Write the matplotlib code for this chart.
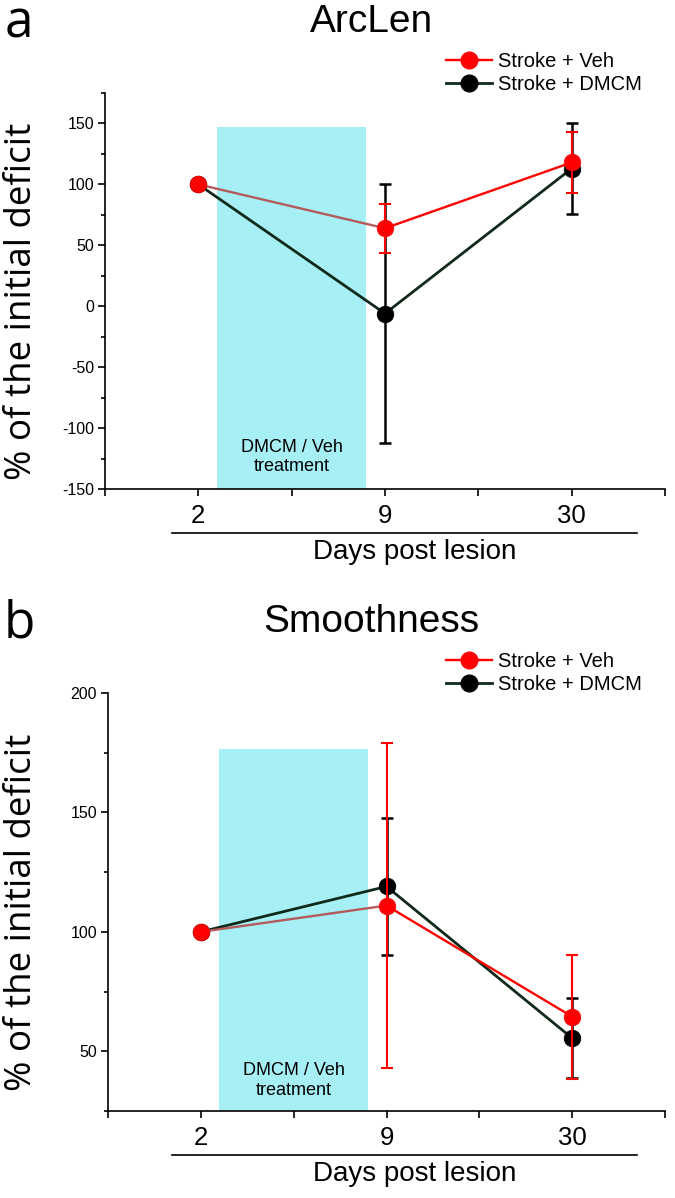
import numpy as np
import matplotlib
matplotlib.use("Agg")
import matplotlib.pyplot as plt
from matplotlib.lines import Line2D
from matplotlib.ticker import MultipleLocator

plt.rcParams["axes.unicode_minus"] = False

# ---------------- data ----------------
days = ["2", "9", "30"]
series_names = ["Stroke + Veh", "Stroke + DMCM"]

arclen_veh = [100, 64, 118]
arclen_veh_err = [0, 20, 25]
arclen_dmcm = [100, -6, 113]
arclen_dmcm_err = [0, 106, 37.5]

smooth_veh = [100, 111, 64.5]
smooth_veh_err = [0, 68, 26]
smooth_dmcm = [100, 119, 55.5]
smooth_dmcm_err = [0, 28.5, 16.7]

treatment_label = "DMCM / Veh\ntreatment"
xlabel = "Days post lesion"
ylabel = "% of the initial deficit"

# ---------------- style ----------------
W, H = 675, 1198
RED = "#ff0000"
RED_FIRST = "#b35a5a"
DARK = "#0f2a1a"
CYAN = "#a6f0f5"
SANS = ["Liberation Sans", "DejaVu Sans"]
OPEN = ["Open Sans", "DejaVu Sans"]

fig = plt.figure(figsize=(W / 100, H / 100), dpi=100)


def fx(px):
    return px / W


def fy(py):
    return 1 - py / H


def make_panel(left, right, top, bottom, ylim, ymajor, veh, veh_err, dmcm, dmcm_err,
               rect_top, text_y, title, title_y, letter, letter_base, legend_top):
    ax = fig.add_axes([fx(left), fy(bottom), fx(right) - fx(left), fy(top) - fy(bottom)])
    x = np.arange(1, len(days) + 1)
    ax.set_xlim(0.5, len(days) + 0.5)
    ax.set_ylim(*ylim)

    # treatment window
    ax.fill_between([1.1, 1.9], ylim[0], rect_top, color=CYAN, lw=0, zorder=0)
    ax.text(1.5, text_y, treatment_label, ha="center", va="center", fontsize=13,
            family=SANS, linespacing=1.2, zorder=1)

    v = np.array(veh, float)
    ve = np.array(veh_err, float)
    d = np.array(dmcm, float)
    de = np.array(dmcm_err, float)

    # DMCM
    ax.errorbar(x[1:], d[1:], yerr=de[1:], fmt="none", ecolor="#000000", elinewidth=1.8,
                capsize=4, capthick=1.8, zorder=3)
    ax.plot(x, d, "-", color=DARK, lw=2.0, zorder=3)
    ax.plot(x, d, "o", color="black", ms=12, mec="black", mew=0.5, zorder=4)
    # Veh
    ax.errorbar(x[1:], v[1:], yerr=ve[1:], fmt="none", ecolor=RED, elinewidth=1.5,
                capsize=4, capthick=1.5, zorder=5)
    ax.plot(x[:2], v[:2], "-", color=RED_FIRST, lw=1.7, zorder=5)
    ax.plot(x[1:], v[1:], "-", color=RED, lw=1.7, zorder=5)
    ax.plot(x, v, "o", color=RED, ms=12, mec=RED, mew=0.5, zorder=6)

    for s in ["top", "right"]:
        ax.spines[s].set_visible(False)
    for s in ["left", "bottom"]:
        ax.spines[s].set_linewidth(1.2)

    ticks = np.arange(0.5, len(days) + 0.75, 0.5)
    labels = []
    for t in ticks:
        if abs(t - round(t)) < 1e-9:
            labels.append(days[int(round(t)) - 1])
        else:
            labels.append("")
    ax.set_xticks(ticks)
    ax.set_xticklabels(labels, fontsize=18.5, family=SANS)
    ax.tick_params(axis="x", direction="out", length=5, width=1.2, pad=6)

    ax.yaxis.set_major_locator(MultipleLocator(50))
    ax.yaxis.set_minor_locator(MultipleLocator(25))
    ax.set_yticks(ymajor)
    for lab in ax.get_yticklabels():
        lab.set_family(SANS)
        lab.set_fontsize(11.5)
    ax.tick_params(axis="y", which="major", direction="out", length=5, width=1.2, pad=3)
    ax.tick_params(axis="y", which="minor", direction="out", length=3.2, width=1.2)

    # titles, letters, labels
    fig.text(fx(371), fy(title_y), title, ha="center", va="center", fontsize=28,
             family=SANS)
    fig.text(fx(19), fy(letter_base), letter, ha="center", va="baseline", fontsize=37,
             family=OPEN)
    fig.text(fx(22), fy((top + bottom) / 2 + 10), ylabel, rotation=90, ha="center",
             va="center", fontsize=26.5, family=OPEN)
    fig.add_artist(Line2D([fx(172), fx(637)], [fy(bottom + 44), fy(bottom + 44)],
                          color="black", lw=1.2))
    fig.text(fx(415), fy(bottom + 63), xlabel, ha="center", va="center", fontsize=20,
             family=SANS)

    handles = [
        Line2D([], [], color=RED, lw=1.7, marker="o", ms=12, mfc=RED, mec=RED),
        Line2D([], [], color=DARK, lw=2.0, marker="o", ms=12, mfc="black", mec="black"),
    ]
    fig.legend(handles, series_names, loc="upper left",
               bbox_to_anchor=(fx(446), fy(legend_top)), frameon=False, borderpad=0,
               borderaxespad=0, handlelength=2.3, handletextpad=0.3, labelspacing=0.2,
               prop={"family": SANS, "size": 14.5})
    return ax


make_panel(105, 665, 93, 489, (-150, 175), np.arange(-150, 151, 50),
           arclen_veh, arclen_veh_err, arclen_dmcm, arclen_dmcm_err,
           147.3, -123.7, "ArcLen", 22, "a", 38, 52)
make_panel(108, 665, 693, 1111, (25, 200), np.arange(50, 201, 50),
           smooth_veh, smooth_veh_err, smooth_dmcm, smooth_dmcm_err,
           176.7, 37.8, "Smoothness", 622, "b", 638, 652)

fig.savefig("out.png", dpi=100)
